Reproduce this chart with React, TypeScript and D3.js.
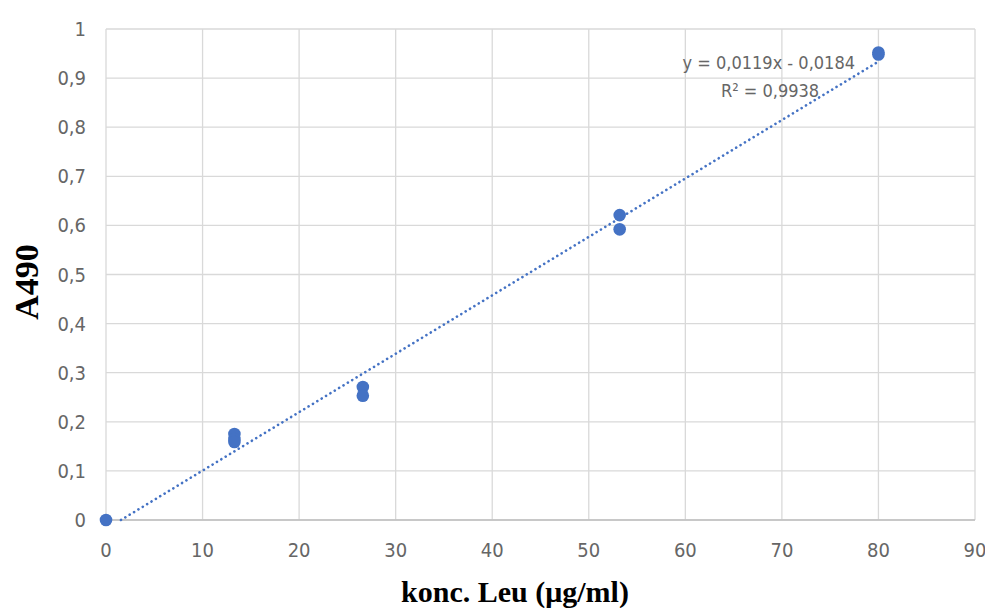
import React from 'react';
import * as d3 from 'd3';

const concX = [0, 13.3, 13.3, 13.3, 26.6, 26.6, 53.2, 53.2, 80, 80];
const absY = [0, 0.175, 0.165, 0.159, 0.271, 0.253, 0.621, 0.592, 0.952, 0.948];
const xTicks = [0, 10, 20, 30, 40, 50, 60, 70, 80, 90];
const yTicks = [0, 0.1, 0.2, 0.3, 0.4, 0.5, 0.6, 0.7, 0.8, 0.9, 1];
const slope = 0.0119;
const intercept = -0.0184;
const eqLabel = 'y = 0,0119x - 0,0184';
const r2Label = 'R² = 0,9938';

const fmt = (v: number) => String(v).replace('.', ',');

const App = () => {
  const width = 985;
  const height = 608;
  const margin = { top: 29, right: 10, bottom: 88, left: 106 };
  const x = d3.scaleLinear().domain([0, 90]).range([margin.left, width - margin.right]);
  const y = d3.scaleLinear().domain([0, 1]).range([height - margin.bottom, margin.top]);

  // trendline clipped to y >= 0
  const x0 = Math.max(0, -intercept / slope);
  const trend = d3.line<number>()
    .x((d) => x(d))
    .y((d) => y(slope * d + intercept));

  const font = "'Liberation Sans Narrow', 'DejaVu Sans Condensed', Arial, sans-serif";
  const serif = "'Liberation Serif', 'Times New Roman', serif";

  return (
    <svg width={width} height={height} style={{ position: 'absolute', left: 0, top: 0, background: '#fff' }}>
      <g>
        {xTicks.map((t) => (
          <line key={'gx' + t} x1={x(t)} x2={x(t)} y1={y(0)} y2={y(1)} stroke="#d9d9d9" strokeWidth={1.3} />
        ))}
        {yTicks.map((t) => (
          <line key={'gy' + t} x1={x(0)} x2={x(90)} y1={y(t)} y2={y(t)} stroke="#d9d9d9" strokeWidth={1.3} />
        ))}
        <line x1={x(0)} x2={x(90)} y1={y(0)} y2={y(0)} stroke="#bfbfbf" strokeWidth={1.5} />
      </g>
      <g fill="#666" fontFamily={font} fontSize={20}>
        {yTicks.map((t) => (
          <text key={'ty' + t} x={x(0) - 20} y={y(t)} dy="0.35em" textAnchor="end">{fmt(t)}</text>
        ))}
        {xTicks.map((t) => (
          <text key={'tx' + t} x={x(t)} y={y(0) + 30} dy="0.35em" textAnchor="middle">{fmt(t)}</text>
        ))}
      </g>
      <path d={trend([x0, 80]) ?? ''} fill="none" stroke="#4472c4" strokeWidth={2.6} strokeDasharray="0.1 5" strokeLinecap="round" />
      <g fill="#4472c4">
        {concX.map((c, i) => (
          <circle key={i} cx={x(c)} cy={y(absY[i])} r={6.3} />
        ))}
      </g>
      <g fill="#666" fontFamily={font} fontSize={18}>
        <text x={855} y={69} textAnchor="end">{eqLabel}</text>
        <text x={770} y={97} textAnchor="middle">{r2Label}</text>
      </g>
      <text x={515} y={602} textAnchor="middle" fontFamily={serif} fontWeight="bold" fontSize={30} fill="#000">konc. Leu (μg/ml)</text>
      <text transform={`translate(38,282) rotate(-90)`} textAnchor="middle" fontFamily={serif} fontWeight="bold" fontSize={34} fill="#000">A490</text>
    </svg>
  );
};

export default App;
